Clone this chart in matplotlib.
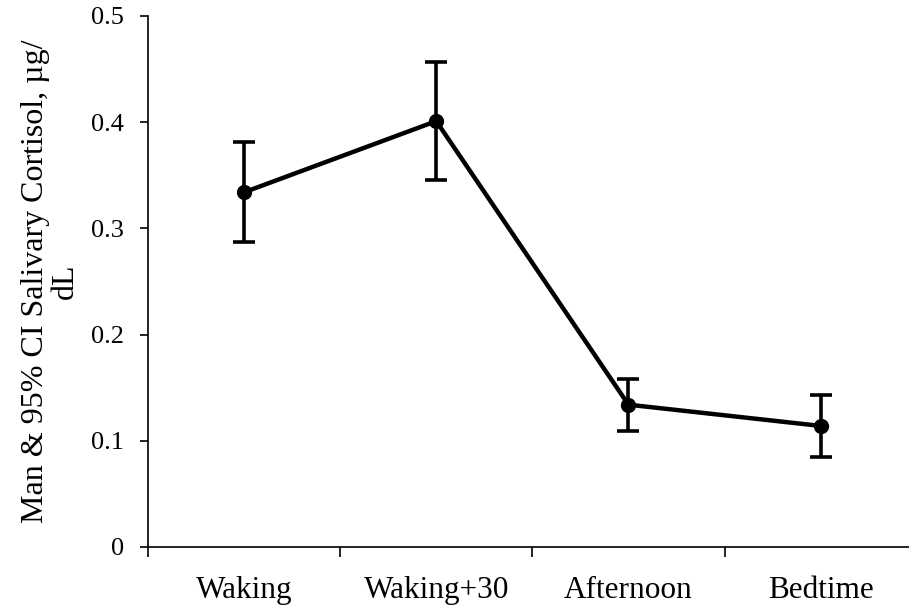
import matplotlib
matplotlib.use("Agg")
from matplotlib import pyplot as plt
import numpy as np

categories = ["Waking", "Waking+30", "Afternoon", "Bedtime"]
means = [0.334, 0.401, 0.134, 0.114]
upper = [0.381, 0.457, 0.158, 0.143]
lower = [0.287, 0.346, 0.109, 0.085]

plt.rcParams["font.family"] = ["Liberation Serif", "DejaVu Serif"]

fig = plt.figure(figsize=(9.09, 6.06), dpi=100)
ax = fig.add_axes([0.1628, 0.0974, 0.8372, 0.8762])

x = np.arange(len(categories))
m = np.array(means)
yerr = [m - np.array(lower), np.array(upper) - m]

ax.errorbar(x, m, yerr=yerr, color="black", linewidth=3.2, marker="o",
            markersize=10, elinewidth=2.6, capsize=8, capthick=2.6)

ax.set_xlim(-0.5, 3.46)
ax.set_ylim(0, 0.5)
ax.set_yticks([0, 0.1, 0.2, 0.3, 0.4, 0.5])
ax.set_yticklabels(["0", "0.1", "0.2", "0.3", "0.4", "0.5"])

# category labels centred, ticks on the boundaries
ax.set_xticks(x)
ax.set_xticklabels(categories)
ax.tick_params(axis="x", length=0, labelsize=22.5, pad=21)
ax.set_xticks([-0.5, 0.5, 1.5, 2.5], minor=True)
ax.tick_params(axis="x", which="minor", length=7, width=1.2, direction="out")
ax.tick_params(axis="y", length=6, width=1.2, labelsize=19, pad=11)

ax.set_ylabel("Man & 95% CI Salivary Cortisol, µg/\ndL", fontsize=23,
              linespacing=1.0)
ax.yaxis.set_label_coords(-0.09, 0.5)

for s in ["top", "right"]:
    ax.spines[s].set_visible(False)
ax.spines["left"].set_linewidth(1.2)
ax.spines["bottom"].set_linewidth(1.2)

fig.savefig("out.png", dpi=100)
